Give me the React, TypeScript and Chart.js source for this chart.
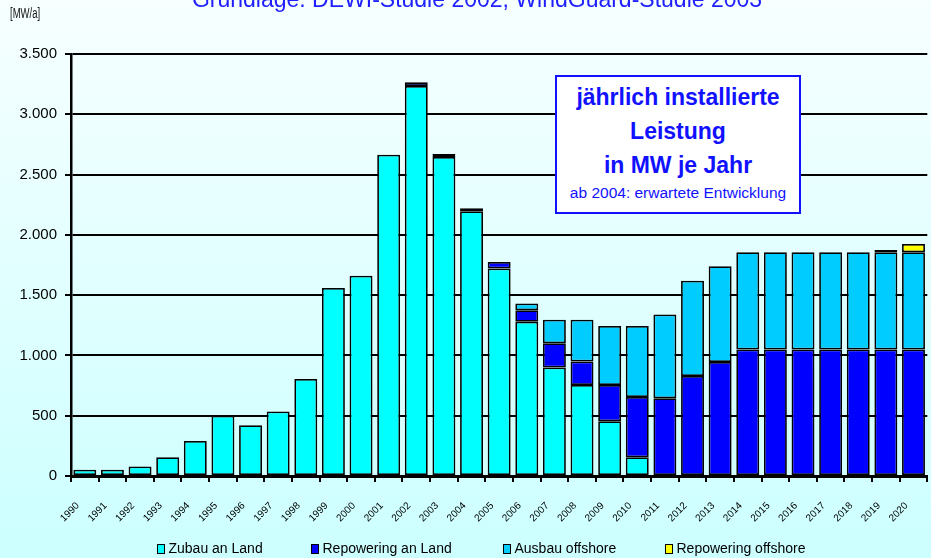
import React, { useEffect, useRef } from "react";
import { Chart, registerables } from "chart.js";

Chart.register(...registerables);

// ---------- data ----------
const years = [
  "1990", "1991", "1992", "1993", "1994", "1995", "1996", "1997", "1998", "1999",
  "2000", "2001", "2002", "2003", "2004", "2005", "2006", "2007", "2008", "2009",
  "2010", "2011", "2012", "2013", "2014", "2015", "2016", "2017", "2018", "2019", "2020",
];

const zubauAnLand = [
  52, 52, 78, 155, 290, 500, 420, 535, 805, 1560,
  1660, 2665, 3235, 2645, 2195, 1720, 1280, 900, 755, 455,
  155, null, null, null, null, null, null, null, null, null, null,
];

const repoweringAnLand = [
  null, null, null, null, null, null, null, null, null, null,
  null, null, 30, 25, 25, 55, 95, 200, 195, 300,
  500, 645, 830, 945, 1050, 1050, 1050, 1050, 1050, 1050, 1050,
];

const ausbauOffshore = [
  null, null, null, null, null, null, null, null, null, null,
  null, null, null, null, null, null, 55, 195, 345, 490,
  590, 695, 790, 795, 805, 805, 805, 805, 805, 805, 805,
];

const repoweringOffshore = [
  null, null, null, null, null, null, null, null, null, null,
  null, null, null, null, null, null, null, null, null, null,
  null, null, null, null, null, null, null, null, null, 20, 70,
];

const seriesLabels = ["Zubau an Land", "Repowering an Land", "Ausbau offshore", "Repowering offshore"];
const yTickValues = [0, 500, 1000, 1500, 2000, 2500, 3000, 3500];
const yTickLabels = ["0", "500", "1.000", "1.500", "2.000", "2.500", "3.000", "3.500"];

const titleText = "Grundlage: DEWI-Studie 2002, WindGuard-Studie 2003";
const unitText = "[MW/a]";
const boxLines = ["jährlich installierte", "Leistung", "in MW je Jahr"];
const boxNote = "ab 2004: erwartete Entwicklung";

// ---------- styles ----------
const seriesColors = ["#00ffff", "#0000ff", "#00ccff", "#ffff00"];
const legendX = [157, 311, 503, 665];
const FONT = '"Liberation Sans", Arial, Helvetica, sans-serif';

export default function App() {
  const canvasRef = useRef<HTMLCanvasElement | null>(null);

  useEffect(() => {
    const canvas = canvasRef.current;
    if (!canvas) return;
    const seriesData = [zubauAnLand, repoweringAnLand, ausbauOffshore, repoweringOffshore];
    const chart = new Chart(canvas, {
      type: "bar",
      data: {
        labels: years,
        datasets: seriesData.map((d, i) => ({
          label: seriesLabels[i],
          data: d,
          backgroundColor: seriesColors[i],
          borderColor: "#000000",
          borderWidth: 1.75,
          borderSkipped: false,
          barPercentage: 0.83,
          categoryPercentage: 1,
        })),
      },
      options: {
        animation: false,
        responsive: false,
        maintainAspectRatio: false,
        layout: { padding: { top: 54, right: 1, left: 0, bottom: 0 } },
        plugins: {
          legend: { display: false },
          tooltip: { enabled: false },
          title: { display: false },
        },
        scales: {
          x: {
            stacked: true,
            offset: true,
            grid: {
              offset: true,
              drawOnChartArea: false,
              drawTicks: true,
              tickLength: 6,
              color: "#000000",
              lineWidth: 2,
            },
            border: { display: true, color: "#000000", width: 3 },
            ticks: {
              autoSkip: false,
              maxRotation: 45,
              minRotation: 45,
              padding: 18,
              labelOffset: -7,
              color: "#000000",
              font: { family: FONT, size: 10 },
            },
            afterFit: (s: any) => {
              s.height = 82;
            },
          },
          y: {
            stacked: true,
            min: 0,
            max: 3500,
            ticks: {
              stepSize: 500,
              padding: 8,
              color: "#000000",
              font: { family: FONT, size: 15 },
              callback: (v: any) => {
                const idx = yTickValues.indexOf(Number(v));
                return idx >= 0 ? yTickLabels[idx] : "";
              },
            },
            grid: {
              color: "#000000",
              lineWidth: 2,
              drawTicks: true,
              tickLength: 6,
            },
            border: { display: true, color: "#000000", width: 2.5 },
            afterFit: (s: any) => {
              s.width = 71;
            },
          },
        },
      },
    });
    return () => chart.destroy();
  }, []);

  return (
    <div
      style={{
        position: "fixed",
        left: 0,
        top: 0,
        width: 931,
        height: 558,
        overflow: "hidden",
        background: "linear-gradient(to bottom, #f7ffff 0%, #ccffff 100%)",
        fontFamily: FONT,
      }}
    >
      <canvas
        ref={canvasRef}
        width={940}
        height={558}
        style={{ position: "absolute", left: 0, top: 0, width: 940, height: 558 }}
      />
      <div
        style={{
          position: "absolute",
          left: 477,
          top: -12.5,
          transform: "translateX(-50%)",
          whiteSpace: "nowrap",
          fontSize: 23,
          lineHeight: "23px",
          color: "#2020ff",
        }}
      >
        {titleText}
      </div>
      <div
        style={{
          position: "absolute",
          left: 10,
          top: 5,
          fontSize: 14,
          lineHeight: "16px",
          color: "#111111",
          transform: "scaleX(0.68)",
          transformOrigin: "left top",
          whiteSpace: "nowrap",
        }}
      >
        {unitText}
      </div>
      <div
        style={{
          position: "absolute",
          left: 555,
          top: 75,
          width: 246,
          height: 139,
          boxSizing: "border-box",
          border: "2px solid #1111ff",
          background: "#ffffff",
          color: "#1111ff",
          textAlign: "center",
          paddingTop: 3,
        }}
      >
        {boxLines.map((l) => (
          <div key={l} style={{ fontSize: 23, fontWeight: "bold", lineHeight: "34px", whiteSpace: "nowrap" }}>
            {l}
          </div>
        ))}
        <div style={{ fontSize: 15.5, lineHeight: "22px", whiteSpace: "nowrap" }}>{boxNote}</div>
      </div>
      {seriesLabels.map((l, i) => (
        <React.Fragment key={l}>
          <div
            style={{
              position: "absolute",
              left: legendX[i],
              top: 543.5,
              width: 8,
              height: 10,
              boxSizing: "border-box",
              border: "1.5px solid #000000",
              background: seriesColors[i],
            }}
          />
          <div
            style={{
              position: "absolute",
              left: legendX[i] + 11.5,
              top: 541,
              fontSize: 14,
              lineHeight: "15px",
              color: "#000000",
              whiteSpace: "nowrap",
            }}
          >
            {l}
          </div>
        </React.Fragment>
      ))}
    </div>
  );
}
